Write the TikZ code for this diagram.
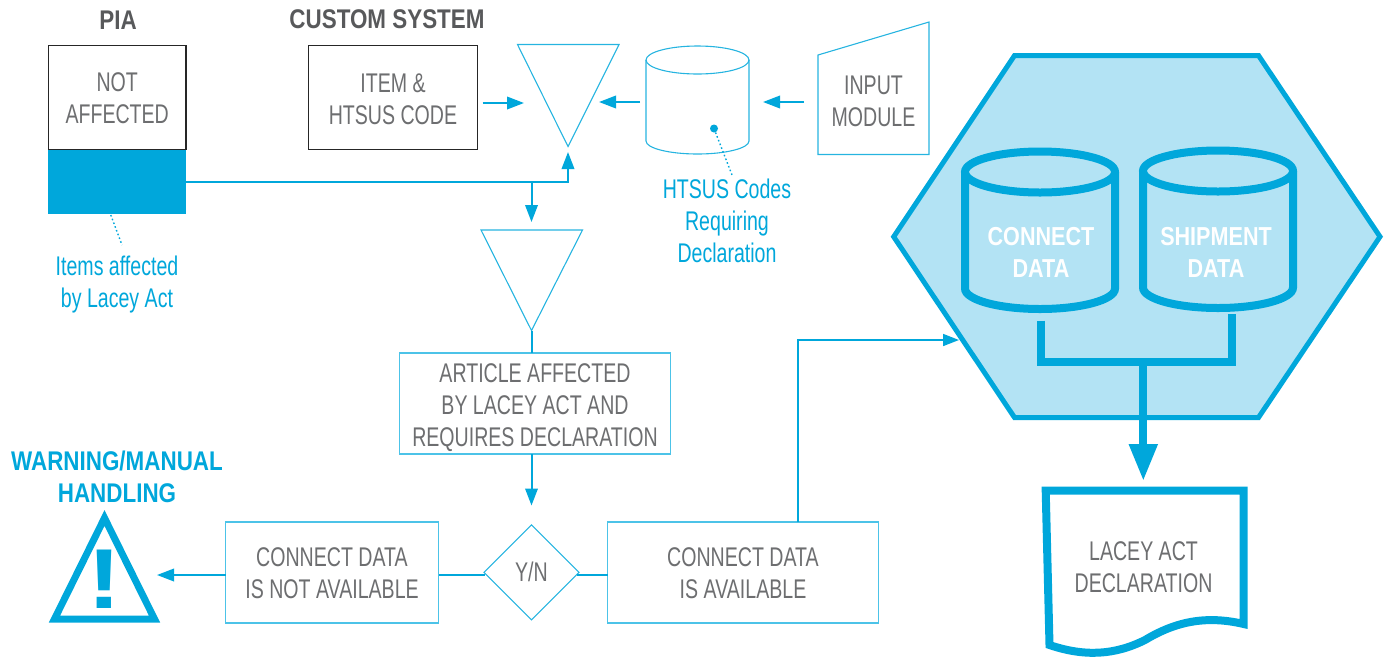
\documentclass[tikz,border=0pt]{standalone}
\usepackage{fontspec}
\setmainfont[FakeStretch=0.725,BoldFeatures={FakeStretch=0.83}]{Liberation Sans}
\newfontfamily\bangfont[FakeStretch=1.2]{Liberation Sans}
\usetikzlibrary{arrows.meta,shapes.geometric,calc}
\definecolor{cyanA}{HTML}{00A7DB}
\definecolor{cyanL}{HTML}{4CC3E8}
\definecolor{hexfill}{HTML}{B3E3F4}
\definecolor{txtgray}{HTML}{6D6E70}
\definecolor{headgray}{HTML}{58595B}
\newcommand{\dnshift}[1]{\rule{0pt}{\dimexpr 19.4pt+#1pt+#1pt\relax}}
\tikzset{
  x=1pt,y=-1pt,
  body/.style={font=\fontsize{27}{32}\selectfont,text=txtgray,align=center,inner sep=0pt,outer sep=0pt},
  bluelabel/.style={body,text=cyanA},
  head/.style={body,font=\fontsize{27}{32}\selectfont\bfseries,text=headgray},
  bluehead/.style={head,text=cyanA},
  whitehead/.style={head,font=\fontsize{26}{32}\selectfont\bfseries,text=white},
  blackbox/.style={body,draw=black!85,line width=1.3pt,minimum width=#1,minimum height=104pt},
  bluebox/.style={body,draw=cyanL,line width=1.5pt,minimum width=#1,minimum height=101pt},
  thin outline/.style={draw=cyanA!85,line width=1.1pt,line join=miter},
  conn/.style={draw=cyanA,line width=2pt},
  arr/.style={conn,-{Triangle[length=17pt,width=12.5pt]}},
  thinarr/.style={draw=cyanA,line width=1.7pt,-{Triangle[length=16pt,width=12pt]}},
  fatline/.style={draw=cyanA,line width=8pt},
  dots/.style={draw=cyanA,line width=1.4pt,dash pattern=on 1.6pt off 2.4pt},
}
\begin{document}
\begin{tikzpicture}
\useasboundingbox (0,0) rectangle (1392,657);
% titles
\node[head] (tpia) at (118,20) {PIA};
\node[head] (tcustom) at (387,19.5) {CUSTOM SYSTEM};
\node[bluehead] (twarn) at (117,476.5) {WARNING/MANUAL\\HANDLING};
% top-left boxes
\node[blackbox=137.5pt] (notaff) at (117.2,97.3) {\dnshift{1}NOT\\AFFECTED};
\node[fill=cyanA,minimum width=138.5pt,minimum height=64pt,inner sep=0pt,outer sep=0pt] (aff) at (116.8,182) {};
\node[bluelabel] (itemsaff) at (117,284.5) {Items affected\\by Lacey Act};
\draw[dots] (aff.south) ++(-6,1) -- (122,245);
\node[blackbox=169pt] (item) at (393,97.2) {\dnshift{1.5}ITEM \&\\HTSUS CODE};
% triangles
\draw[thin outline] (517.5,44.5) -- (619,44.5) -- (568,146.5) -- cycle;
\coordinate (t1apex) at (568,146.5);
\coordinate (t1in) at (568,152);
\coordinate (t1l) at (524,103);
\coordinate (t1r) at (599,102);
\draw[thin outline] (481,230) -- (582.5,230) -- (531.5,330.5) -- cycle;
\coordinate (t2apex) at (531.5,330.5);
\coordinate (t2in) at (531.5,222);
% database
\draw[thin outline] (646,60) arc[start angle=180,end angle=0,x radius=51.5,y radius=-14]
  -- (749,141) arc[start angle=0,end angle=-180,x radius=51.5,y radius=-13] -- cycle;
\draw[thin outline] (646,60) arc[start angle=180,end angle=360,x radius=51.5,y radius=-14];
\node[circle,fill=cyanA,minimum size=8pt,inner sep=0pt] (dbdot) at (714,128.5) {};
\coordinate (dbleft) at (640,102);
\coordinate (dbright) at (763,102);
\node[bluelabel] (htslabel) at (727,221) {HTSUS Codes\\Requiring\\Declaration};
\draw[dots] (dbdot) -- (732,175);
% input
\draw[thin outline] (818,55) -- (929,22) -- (929,154.5) -- (818,154.5) -- cycle;
\node[body] (input) at (873.5,101.5) {INPUT\\MODULE};
\coordinate (inputleft) at (804,102);
% arrows top
\draw[arr] (482.5,103) -- (t1l);
\draw[arr] (dbleft) -- (t1r);
\draw[arr] (inputleft) -- (dbright);
\draw[conn] (aff.east) -- (568,182) coordinate (corner);
\draw[arr] (corner) ++(0,1) -- (t1in);
\draw[arr] (531.5,182) -- (t2in);
% article
\node[bluebox=271pt] (article) at (535,403.5) {\dnshift{3.5}ARTICLE AFFECTED\\BY LACEY ACT AND\\REQUIRES DECLARATION};
\draw[conn] (t2apex) -- (t2apex |- article.north);
\node[draw=cyanA!85,line width=1.1pt,diamond,minimum width=95pt,minimum height=95pt,inner sep=0pt,outer sep=0pt,body] (yn) at (531.5,572.3) {Y/N};
\draw[arr] (yn.north |- article.south) -- (531.5,505.5);
\node[bluebox=213pt] (cnot) at (332,572.5) {\dnshift{0.5}CONNECT DATA\\IS NOT AVAILABLE};
\node[bluebox=271pt] (cyes) at (743,572.5) {\dnshift{0.5}CONNECT DATA\\IS AVAILABLE};
\coordinate (yl) at (484.5,575);
\coordinate (yr) at (577,575);
\draw[conn] (yl) -- (yl -| cnot.east);
\draw[conn] (yr) -- (yr -| cyes.west);
\draw[arr] (cnot.west |- yl) -- (157,575);
% warning
\draw[draw=cyanA,line width=7pt,line join=miter] (104.5,518) -- (154.5,619) -- (54.5,619) -- cycle;
\node[inner sep=0pt,text=cyanA,font=\fontsize{85}{85}\bangfont\bfseries] (bang) at (104.5,579.5) {!};
% hexagon
\coordinate (hexin) at (959,340);
\draw[draw=cyanA,fill=hexfill,line width=5pt,line join=miter] (893.7,236.7) -- (1014.5,55.5) -- (1258.5,55.5) -- (1380,236.7) -- (1258.5,417.5) -- (1014.5,417.5) -- cycle;
\draw[thinarr] (cyes.north -| 798,0) -- (798,340) -- (hexin);
% cylinders
\foreach \nm/\cx/\cy in {c1/1040/172,c2/1218/171}{
  \draw[draw=cyanA,line width=8pt] (\cx,\cy) ellipse [x radius=75,y radius=20.5];
  \draw[draw=cyanA,line width=8pt,line cap=butt] (\cx-75,\cy) -- (\cx-75,\cy+116.5) arc[start angle=180,end angle=360,x radius=75,y radius=-20.5] -- (\cx+75,\cy);
}
\node[whitehead] (cdata) at (1041,252.5) {CONNECT\\DATA};
\node[whitehead] (sdata) at (1216,252.5) {SHIPMENT\\DATA};
\coordinate (c1out) at (1041.3,320.7);
\coordinate (c2out) at (1232,314);
\coordinate (join) at (1143.3,361.7);
\draw[fatline,line join=miter] (c1out) -- (c1out |- join) -- (c2out |- join) -- (c2out);
\draw[fatline,-{Triangle[length=37pt,width=27pt]}] (join) -- (1143.3,481);
% document
\draw[fatline,line join=miter] (1045.7,490.7) -- (1243.7,490.7) -- (1243.7,624)
  .. controls (1205,615) and (1175,622) .. (1145,640)
  .. controls (1115,655) and (1085,657) .. (1049.5,645) -- cycle;
\node[body] (doc) at (1143.5,567.5) {LACEY ACT\\DECLARATION};
\end{tikzpicture}
\end{document}
